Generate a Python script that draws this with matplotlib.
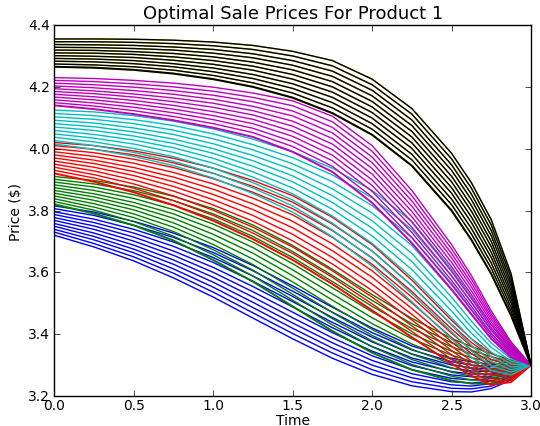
import matplotlib
matplotlib.use("Agg")
import matplotlib.pyplot as plt

plt.style.use("classic")

# time grid of the sampled points
times = [0.0, 0.25, 0.5, 0.75, 1.0, 1.25, 1.5, 1.75, 2.0, 2.25, 2.5,
         2.625, 2.75, 2.875, 3.0]

blue_prices = [
    [3.815, 3.795, 3.765, 3.727, 3.680, 3.622, 3.556, 3.487, 3.420, 3.362, 3.322, 3.310, 3.303, 3.300, 3.300],
    [3.806, 3.784, 3.752, 3.713, 3.664, 3.605, 3.539, 3.471, 3.405, 3.349, 3.311, 3.300, 3.295, 3.295, 3.300],
    [3.796, 3.772, 3.739, 3.698, 3.648, 3.588, 3.522, 3.454, 3.390, 3.336, 3.300, 3.291, 3.287, 3.290, 3.300],
    [3.787, 3.761, 3.727, 3.684, 3.632, 3.571, 3.505, 3.438, 3.375, 3.323, 3.290, 3.281, 3.279, 3.286, 3.300],
    [3.777, 3.750, 3.714, 3.669, 3.616, 3.554, 3.488, 3.421, 3.360, 3.310, 3.279, 3.271, 3.271, 3.281, 3.300],
    [3.768, 3.739, 3.701, 3.655, 3.600, 3.537, 3.471, 3.405, 3.345, 3.298, 3.268, 3.262, 3.264, 3.276, 3.300],
    [3.758, 3.727, 3.688, 3.640, 3.584, 3.520, 3.453, 3.388, 3.330, 3.285, 3.257, 3.252, 3.256, 3.271, 3.300],
    [3.749, 3.716, 3.675, 3.626, 3.568, 3.503, 3.436, 3.372, 3.315, 3.272, 3.246, 3.242, 3.248, 3.266, 3.300],
    [3.739, 3.705, 3.663, 3.611, 3.552, 3.486, 3.419, 3.355, 3.300, 3.259, 3.236, 3.232, 3.240, 3.262, 3.300],
    [3.730, 3.693, 3.650, 3.597, 3.536, 3.469, 3.402, 3.339, 3.285, 3.246, 3.225, 3.223, 3.232, 3.257, 3.300],
    [3.720, 3.682, 3.637, 3.582, 3.520, 3.452, 3.385, 3.322, 3.270, 3.233, 3.214, 3.213, 3.224, 3.252, 3.300],
]

green_prices = [
    [3.910, 3.897, 3.876, 3.846, 3.806, 3.753, 3.687, 3.610, 3.528, 3.451, 3.386, 3.360, 3.337, 3.316, 3.300],
    [3.901, 3.886, 3.864, 3.832, 3.789, 3.735, 3.667, 3.590, 3.509, 3.434, 3.372, 3.348, 3.327, 3.310, 3.300],
    [3.892, 3.876, 3.851, 3.817, 3.773, 3.716, 3.648, 3.570, 3.490, 3.418, 3.359, 3.336, 3.318, 3.304, 3.300],
    [3.883, 3.865, 3.839, 3.803, 3.756, 3.698, 3.628, 3.550, 3.472, 3.401, 3.345, 3.324, 3.308, 3.298, 3.300],
    [3.874, 3.854, 3.826, 3.789, 3.740, 3.680, 3.608, 3.530, 3.453, 3.385, 3.332, 3.312, 3.298, 3.292, 3.300],
    [3.865, 3.844, 3.814, 3.775, 3.723, 3.662, 3.589, 3.510, 3.434, 3.368, 3.318, 3.300, 3.289, 3.286, 3.300],
    [3.856, 3.833, 3.802, 3.760, 3.706, 3.643, 3.569, 3.490, 3.415, 3.351, 3.304, 3.288, 3.279, 3.280, 3.300],
    [3.847, 3.822, 3.789, 3.746, 3.690, 3.625, 3.549, 3.470, 3.396, 3.335, 3.291, 3.276, 3.269, 3.274, 3.300],
    [3.838, 3.811, 3.777, 3.732, 3.673, 3.607, 3.529, 3.450, 3.378, 3.318, 3.277, 3.264, 3.259, 3.268, 3.300],
    [3.829, 3.801, 3.764, 3.717, 3.657, 3.588, 3.510, 3.430, 3.359, 3.302, 3.264, 3.252, 3.250, 3.262, 3.300],
    [3.820, 3.790, 3.752, 3.703, 3.640, 3.570, 3.490, 3.410, 3.340, 3.285, 3.250, 3.240, 3.240, 3.256, 3.300],
]

red_prices = [
    [4.020, 4.010, 3.993, 3.969, 3.937, 3.897, 3.848, 3.778, 3.690, 3.575, 3.445, 3.385, 3.338, 3.310, 3.300],
    [4.010, 3.998, 3.980, 3.954, 3.920, 3.878, 3.827, 3.756, 3.669, 3.557, 3.431, 3.373, 3.328, 3.304, 3.300],
    [4.000, 3.987, 3.966, 3.939, 3.903, 3.859, 3.806, 3.735, 3.647, 3.538, 3.417, 3.361, 3.318, 3.297, 3.300],
    [3.990, 3.975, 3.953, 3.923, 3.886, 3.840, 3.786, 3.713, 3.626, 3.520, 3.403, 3.349, 3.307, 3.291, 3.300],
    [3.980, 3.963, 3.939, 3.908, 3.869, 3.821, 3.765, 3.692, 3.605, 3.501, 3.389, 3.337, 3.297, 3.284, 3.300],
    [3.970, 3.952, 3.926, 3.893, 3.852, 3.803, 3.744, 3.670, 3.584, 3.483, 3.375, 3.325, 3.287, 3.278, 3.300],
    [3.960, 3.940, 3.913, 3.878, 3.835, 3.784, 3.723, 3.648, 3.562, 3.464, 3.361, 3.313, 3.277, 3.271, 3.300],
    [3.950, 3.928, 3.899, 3.863, 3.818, 3.765, 3.702, 3.627, 3.541, 3.446, 3.347, 3.301, 3.267, 3.265, 3.300],
    [3.940, 3.916, 3.886, 3.847, 3.801, 3.746, 3.682, 3.605, 3.520, 3.427, 3.333, 3.289, 3.256, 3.258, 3.300],
    [3.930, 3.905, 3.872, 3.832, 3.784, 3.727, 3.661, 3.584, 3.498, 3.409, 3.319, 3.277, 3.246, 3.252, 3.300],
    [3.920, 3.893, 3.859, 3.817, 3.767, 3.708, 3.640, 3.562, 3.477, 3.390, 3.305, 3.265, 3.236, 3.245, 3.300],
]

cyan_prices = [
    [4.125, 4.119, 4.107, 4.089, 4.064, 4.031, 3.990, 3.937, 3.865, 3.765, 3.610, 3.520, 3.430, 3.355, 3.300],
    [4.114, 4.107, 4.094, 4.075, 4.048, 4.013, 3.971, 3.915, 3.841, 3.739, 3.588, 3.501, 3.415, 3.346, 3.300],
    [4.103, 4.095, 4.081, 4.060, 4.032, 3.996, 3.951, 3.893, 3.816, 3.713, 3.565, 3.481, 3.401, 3.338, 3.300],
    [4.092, 4.083, 4.067, 4.046, 4.016, 3.978, 3.932, 3.870, 3.792, 3.687, 3.543, 3.462, 3.386, 3.329, 3.300],
    [4.081, 4.071, 4.054, 4.031, 4.000, 3.961, 3.912, 3.848, 3.767, 3.661, 3.520, 3.442, 3.371, 3.320, 3.300],
    [4.070, 4.059, 4.041, 4.017, 3.985, 3.943, 3.893, 3.826, 3.743, 3.635, 3.498, 3.423, 3.357, 3.312, 3.300],
    [4.059, 4.046, 4.028, 4.003, 3.969, 3.925, 3.873, 3.804, 3.718, 3.609, 3.475, 3.403, 3.342, 3.303, 3.300],
    [4.048, 4.034, 4.015, 3.988, 3.953, 3.908, 3.854, 3.782, 3.694, 3.583, 3.453, 3.384, 3.327, 3.294, 3.300],
    [4.037, 4.022, 4.001, 3.974, 3.937, 3.890, 3.834, 3.759, 3.669, 3.557, 3.430, 3.364, 3.312, 3.285, 3.300],
    [4.026, 4.010, 3.988, 3.959, 3.921, 3.873, 3.815, 3.737, 3.645, 3.531, 3.408, 3.345, 3.298, 3.277, 3.300],
    [4.015, 3.998, 3.975, 3.945, 3.905, 3.855, 3.795, 3.715, 3.620, 3.505, 3.385, 3.325, 3.283, 3.268, 3.300],
]

magenta_prices = [
    [4.230, 4.227, 4.221, 4.212, 4.199, 4.180, 4.155, 4.105, 4.010, 3.865, 3.690, 3.590, 3.475, 3.375, 3.300],
    [4.221, 4.217, 4.210, 4.200, 4.186, 4.166, 4.139, 4.087, 3.992, 3.848, 3.676, 3.578, 3.466, 3.370, 3.300],
    [4.212, 4.207, 4.199, 4.188, 4.173, 4.152, 4.122, 4.069, 3.973, 3.831, 3.661, 3.565, 3.457, 3.365, 3.300],
    [4.203, 4.197, 4.188, 4.176, 4.160, 4.137, 4.106, 4.051, 3.955, 3.814, 3.647, 3.553, 3.448, 3.360, 3.300],
    [4.194, 4.187, 4.177, 4.164, 4.147, 4.123, 4.089, 4.033, 3.936, 3.797, 3.632, 3.540, 3.439, 3.355, 3.300],
    [4.185, 4.178, 4.167, 4.152, 4.134, 4.109, 4.073, 4.015, 3.918, 3.780, 3.618, 3.528, 3.430, 3.350, 3.300],
    [4.176, 4.168, 4.156, 4.140, 4.120, 4.095, 4.056, 3.997, 3.899, 3.763, 3.603, 3.515, 3.421, 3.345, 3.300],
    [4.167, 4.158, 4.145, 4.128, 4.107, 4.081, 4.040, 3.979, 3.881, 3.746, 3.589, 3.503, 3.412, 3.340, 3.300],
    [4.158, 4.148, 4.134, 4.116, 4.094, 4.066, 4.023, 3.961, 3.862, 3.729, 3.574, 3.490, 3.403, 3.335, 3.300],
    [4.149, 4.138, 4.123, 4.104, 4.081, 4.052, 4.007, 3.943, 3.844, 3.712, 3.560, 3.478, 3.394, 3.330, 3.300],
    [4.140, 4.128, 4.112, 4.092, 4.068, 4.038, 3.990, 3.925, 3.825, 3.695, 3.545, 3.465, 3.385, 3.325, 3.300],
]

black_prices = [
    [4.355, 4.355, 4.354, 4.351, 4.345, 4.334, 4.315, 4.285, 4.225, 4.130, 3.985, 3.890, 3.770, 3.595, 3.300],
    [4.346, 4.346, 4.344, 4.340, 4.333, 4.321, 4.300, 4.268, 4.207, 4.112, 3.967, 3.872, 3.753, 3.582, 3.300],
    [4.337, 4.336, 4.334, 4.329, 4.321, 4.307, 4.285, 4.251, 4.189, 4.093, 3.948, 3.853, 3.735, 3.568, 3.300],
    [4.328, 4.327, 4.324, 4.319, 4.309, 4.294, 4.270, 4.234, 4.171, 4.075, 3.930, 3.835, 3.718, 3.555, 3.300],
    [4.319, 4.318, 4.314, 4.308, 4.297, 4.280, 4.255, 4.217, 4.153, 4.056, 3.911, 3.816, 3.700, 3.541, 3.300],
    [4.310, 4.309, 4.305, 4.297, 4.285, 4.267, 4.240, 4.200, 4.135, 4.038, 3.893, 3.798, 3.683, 3.528, 3.300],
    [4.301, 4.299, 4.295, 4.286, 4.273, 4.254, 4.225, 4.183, 4.117, 4.019, 3.874, 3.779, 3.665, 3.514, 3.300],
    [4.292, 4.290, 4.285, 4.275, 4.261, 4.240, 4.210, 4.166, 4.099, 4.001, 3.856, 3.761, 3.648, 3.501, 3.300],
    [4.283, 4.281, 4.275, 4.265, 4.249, 4.227, 4.195, 4.149, 4.081, 3.982, 3.837, 3.742, 3.630, 3.487, 3.300],
    [4.274, 4.271, 4.265, 4.254, 4.237, 4.213, 4.180, 4.132, 4.063, 3.964, 3.819, 3.724, 3.613, 3.474, 3.300],
    [4.265, 4.262, 4.255, 4.243, 4.225, 4.200, 4.165, 4.115, 4.045, 3.945, 3.800, 3.705, 3.595, 3.460, 3.300],
]

# the yellow series lies under the black one (gives the olive fringe)
yellow_prices = black_prices

# (data, colour, draw lowest curve heavier)
groups = [
    (blue_prices, "b", False),
    (green_prices, "g", True),
    (red_prices, "r", True),
    (cyan_prices, "c", False),
    (magenta_prices, "m", True),
    (yellow_prices, "y", True),
    (black_prices, "k", True),
]

x_ticks = [0.0, 0.5, 1.0, 1.5, 2.0, 2.5, 3.0]
y_ticks = [3.2, 3.4, 3.6, 3.8, 4.0, 4.2, 4.4]

fig = plt.figure(figsize=(5.4, 4.27), dpi=100, facecolor="white")
ax = fig.add_axes([0.1007, 0.0703, 0.8826, 0.8687])

for data, col, heavy in groups:
    n = len(data)
    for i, row in enumerate(data):
        lw = 1.4 if (heavy and i == n - 1) else 1.0
        ax.plot(times, row, color=col, lw=lw)

ax.set_xlim(0, 3.0)
ax.set_ylim(3.2, 4.4)
ax.set_xticks(x_ticks)
ax.set_yticks(y_ticks)
ax.set_xticklabels([f"{v:.1f}" for v in x_ticks])
ax.set_yticklabels([f"{v:.1f}" for v in y_ticks])
ax.tick_params(labelsize=10, direction="in", length=4, width=0.5,
               top=True, right=True)
ax.tick_params(axis="x", pad=1.5)
ax.tick_params(axis="y", pad=3)
for s in ax.spines.values():
    s.set_linewidth(1.0)

ax.set_title("Optimal Sale Prices For Product 1", fontsize=13)
ax.set_xlabel("Time", fontsize=10, labelpad=1)
ax.set_ylabel(r"Price (\$)", fontsize=10, labelpad=4)

fig.savefig("out.png", dpi=100, facecolor="white")
